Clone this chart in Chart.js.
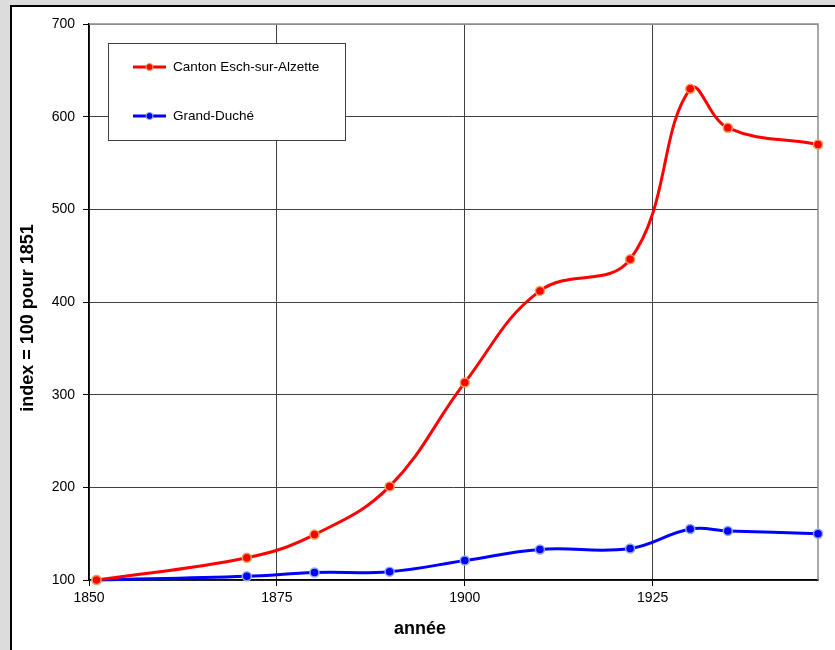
<!DOCTYPE html>
<html>
<head>
<meta charset="utf-8">
<script src="https://cdn.jsdelivr.net/npm/chart.js@4/dist/chart.umd.min.js"></script>
<style>
  html, body { margin: 0; padding: 0; background: #dcdcdc; width: 835px; height: 650px; overflow: hidden; }
  #frame {
    position: absolute; left: 10px; top: 5px; width: 823px; height: 643px;
    border-left: 2px solid #000; border-top: 2px solid #000; background: #fff;
  }
  #chartBox { position: relative; width: 823px; height: 643px; }
</style>
</head>
<body>
<div id="frame"><div id="chartBox"><canvas id="popChart"></canvas></div></div>
<script>
// years of the census points
const years = [1851, 1871, 1880, 1890, 1900, 1910, 1922, 1930, 1935, 1947];
// index = 100 for 1851
const eschValues = [100, 124, 149, 201, 313, 412, 446, 630, 588, 570];
const grandDucheValues = [100, 104, 108, 109, 121, 133, 134, 155, 153, 150];
const xTickValues = [1850, 1875, 1900, 1925];
const seriesLabels = ['Canton Esch-sur-Alzette', 'Grand-Duché'];
const xTitle = 'année';
const yTitle = 'index = 100 pour 1851';

const FONT = "'Liberation Sans', Arial, sans-serif";

function toPoints(xs, ys) {
  return xs.map((x, i) => ({ x: x, y: ys[i] }));
}

// legend box drawn inside the plot, like the original
const boxLegend = {
  id: 'boxLegend',
  afterDraw(chart) {
    const ctx = chart.ctx;
    ctx.save();
    ctx.fillStyle = '#fff';
    ctx.fillRect(96.5, 36.5, 237, 97);
    ctx.strokeStyle = '#404040';
    ctx.lineWidth = 1;
    ctx.strokeRect(96.5, 36.5, 237, 97);
    const rows = [60, 109];
    chart.data.datasets.forEach((ds, i) => {
      const y = rows[i];
      ctx.strokeStyle = ds.borderColor;
      ctx.lineWidth = 3;
      ctx.beginPath();
      ctx.moveTo(121, y);
      ctx.lineTo(154, y);
      ctx.stroke();
      ctx.beginPath();
      ctx.arc(137.5, y, 3.5, 0, Math.PI * 2);
      ctx.fillStyle = ds.pointBackgroundColor;
      ctx.fill();
      ctx.lineWidth = 1;
      ctx.strokeStyle = ds.pointBorderColor;
      ctx.stroke();
      ctx.fillStyle = '#000';
      ctx.font = '13.5px ' + FONT;
      ctx.textBaseline = 'middle';
      ctx.fillText(ds.label, 161, y);
    });
    ctx.restore();
  }
};

// gray top/right frame of the plot area and the axis titles
const plotFrame = {
  id: 'plotFrame',
  beforeDatasetsDraw(chart) {
    const a = chart.chartArea;
    const ctx = chart.ctx;
    ctx.save();
    ctx.strokeStyle = '#8c8c8c';
    ctx.lineWidth = 1.5;
    ctx.beginPath();
    ctx.moveTo(a.left, a.top);
    ctx.lineTo(a.right, a.top);
    ctx.lineTo(a.right, a.bottom);
    ctx.stroke();
    ctx.restore();
  },
  afterDraw(chart) {
    const ctx = chart.ctx;
    ctx.save();
    ctx.fillStyle = '#000';
    ctx.font = 'bold 18px ' + FONT;
    ctx.textAlign = 'center';
    ctx.textBaseline = 'middle';
    ctx.fillText(xTitle, 408, 622);
    ctx.translate(16, 311);
    ctx.rotate(-Math.PI / 2);
    ctx.fillText(yTitle, 0, 0);
    ctx.restore();
  }
};

const ctx = document.getElementById('popChart').getContext('2d');
new Chart(ctx, {
  type: 'line',
  data: {
    datasets: [
      {
        label: seriesLabels[0],
        data: toPoints(years, eschValues),
        borderColor: '#ff0000',
        borderWidth: 3,
        pointBackgroundColor: '#ff0000',
        pointBorderColor: '#f0a050',
        pointBorderWidth: 1.5,
        pointRadius: 4.5,
        tension: 0.4,
        clip: false,
        fill: false
      },
      {
        label: seriesLabels[1],
        data: toPoints(years, grandDucheValues),
        borderColor: '#0000ff',
        borderWidth: 3,
        pointBackgroundColor: '#0000ff',
        pointBorderColor: '#90a8f0',
        pointBorderWidth: 1.5,
        pointRadius: 4.5,
        tension: 0.4,
        clip: false,
        fill: false
      }
    ]
  },
  options: {
    responsive: true,
    maintainAspectRatio: false,
    animation: false,
    layout: { padding: { top: 17, right: 17, left: 0, bottom: 0 } },
    plugins: {
      legend: { display: false },
      tooltip: { enabled: false }
    },
    scales: {
      x: {
        type: 'linear',
        min: 1850,
        max: 1947,
        afterBuildTicks: (scale) => { scale.ticks = xTickValues.map(v => ({ value: v })); },
        afterFit: (scale) => { scale.height = 70; },
        grid: { color: '#404040', lineWidth: 1, tickLength: 6, tickColor: '#000' },
        border: { color: '#000', width: 1.5 },
        ticks: {
          color: '#000', padding: 4, maxRotation: 0,
          font: { family: FONT, size: 14 },
          callback: (v) => String(v)
        }
      },
      y: {
        min: 100,
        max: 700,
        afterFit: (scale) => { scale.width = 77; },
        grid: {
          color: (c) => c.tick && c.tick.value === 700 ? '#8c8c8c' : '#404040',
          lineWidth: 1,
          tickLength: 6,
          tickColor: '#000'
        },
        border: { color: '#000', width: 1.5 },
        ticks: { stepSize: 100, color: '#000', padding: 8, font: { family: FONT, size: 14 } }
      }
    }
  },
  plugins: [plotFrame, boxLegend]
});
</script>
</body>
</html>
